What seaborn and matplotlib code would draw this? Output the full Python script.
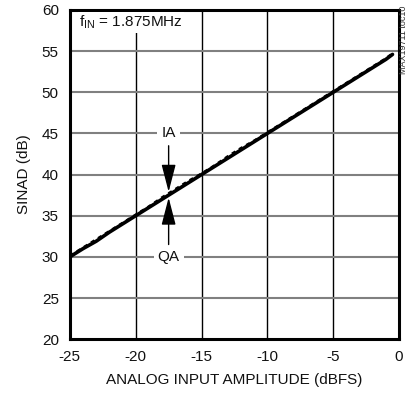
import matplotlib
matplotlib.use("Agg")
import matplotlib.pyplot as plt
import seaborn as sns
import pandas as pd
from matplotlib import font_manager

amplitude = [-25, -24, -23, -22, -21, -20, -19, -18, -17, -16, -15, -14, -13,
             -12, -11, -10, -9, -8, -7, -6, -5, -4, -3, -2, -1, -0.5]
sinad_ia = [30.0, 31.0, 31.9, 33.0, 34.0, 35.0, 36.0, 37.0, 38.0, 39.0, 40.0, 41.0, 42.0,
            43.0, 44.0, 45.0, 46.0, 47.0, 48.0, 49.0, 50.0, 51.0, 52.0, 53.0, 54.0, 54.6]
sinad_qa = [30.1, 31.1, 32.1, 33.1, 34.1, 35.1, 36.1, 37.2, 38.2, 39.2, 40.1, 41.1, 42.2,
            43.2, 44.1, 45.1, 46.1, 47.1, 48.1, 49.1, 50.1, 51.1, 52.1, 53.1, 54.1, 54.7]
xticks = [-25, -20, -15, -10, -5, 0]
yticks = [20, 25, 30, 35, 40, 45, 50, 55, 60]

names = {f.name for f in font_manager.fontManager.ttflist}
fam = "Liberation Sans Narrow" if "Liberation Sans Narrow" in names else "Liberation Sans"

sns.set_style("white")
plt.rcParams["font.family"] = [fam, "DejaVu Sans"]

df = pd.DataFrame({
    "amp": amplitude * 2,
    "sinad": sinad_ia + sinad_qa,
    "ch": ["IA"] * len(amplitude) + ["QA"] * len(amplitude),
})

fs = 11
fig = plt.figure(figsize=(4.11, 3.99), dpi=100)
ax = fig.add_axes([0.170, 0.150, 0.801, 0.825])

for x in xticks[1:-1]:
    ax.axvline(x, color="black", lw=1.0, zorder=1)
for y in yticks[1:-1]:
    ax.axhline(y, color="#808080", lw=1.5, zorder=1)

sns.lineplot(data=df[df.ch == "QA"], x="amp", y="sinad", ax=ax, color="black",
             lw=2.0, linestyle=(0, (1.5, 1.5)), zorder=3)
sns.lineplot(data=df[df.ch == "IA"], x="amp", y="sinad", ax=ax, color="black",
             lw=2.6, zorder=4)

ax.set_xlim(-25, 0)
ax.set_ylim(20, 60)
ax.set_xticks(xticks)
ax.set_yticks(yticks)
ax.set_xticklabels([str(t) for t in xticks])
ax.tick_params(axis="both", length=0, labelsize=fs, pad=8, colors="#111111")
ax.set_xlabel("ANALOG INPUT AMPLITUDE (dBFS)", fontsize=fs, labelpad=6, color="#111111")
ax.set_ylabel("SINAD (dB)", fontsize=fs, labelpad=8, color="#111111")
for s in ax.spines.values():
    s.set_linewidth(2.2)
    s.set_color("black")
    s.set_visible(True)

ax.text(-24.3, 58.5, r"f$_{\mathregular{IN}}$ = 1.875MHz", fontsize=fs, va="center",
        ha="left", color="#111111",
        bbox=dict(facecolor="white", edgecolor="none", pad=1), zorder=5)

ax.text(-17.5, 45, "IA", fontsize=fs, ha="center", va="center", color="#111111",
        bbox=dict(facecolor="white", edgecolor="none", pad=3), zorder=5)
ax.text(-17.5, 30, "QA", fontsize=fs, ha="center", va="center", color="#111111",
        bbox=dict(facecolor="white", edgecolor="none", pad=3), zorder=5)
arrow = dict(arrowstyle="-|>,head_length=0.85,head_width=0.22", color="black",
             lw=1.0, mutation_scale=20, shrinkA=0, shrinkB=0)
ax.annotate("", xy=(-17.5, 37.9), xytext=(-17.5, 43.5), arrowprops=arrow, zorder=6)
ax.annotate("", xy=(-17.5, 37.2), xytext=(-17.5, 31.5), arrowprops=arrow, zorder=6)

fig.text(0.982, 0.985, "MAX19711 toc10", rotation=90, fontsize=6.5, ha="center",
         va="top", color="#333333")

fig.savefig("out.png", dpi=100)
